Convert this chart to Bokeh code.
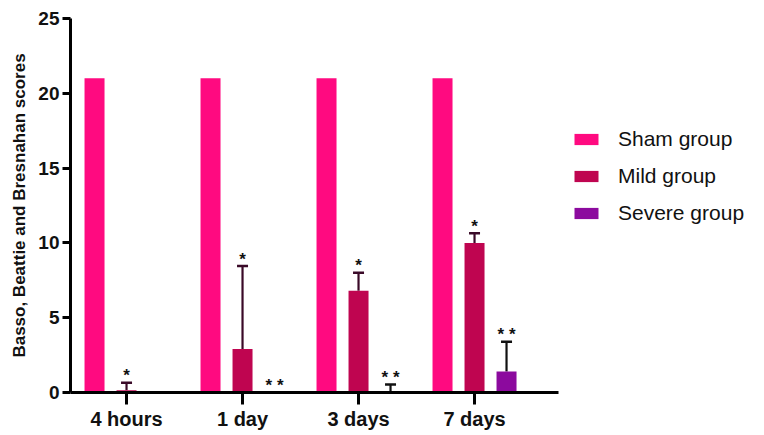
from bokeh.plotting import figure
from bokeh.models import Range1d, FixedTicker, ColumnDataSource, Whisker, TeeHead, Legend, LegendItem
from bokeh.core.properties import value
from bokeh.embed import file_html
from bokeh.resources import INLINE

categories = ["4 hours", "1 day", "3 days", "7 days"]
groups = ["Sham group", "Mild group", "Severe group"]
sham_mean = [21, 21, 21, 21]
sham_err = [0, 0, 0, 0]
mild_mean = [0.15, 2.9, 6.8, 10.0]
mild_err = [0.5, 5.55, 1.2, 0.65]
severe_mean = [0.0, 0.0, 0.1, 1.4]
severe_err = [0.0, 0.0, 0.43, 2.0]
sham_sig = ["", "", "", ""]
mild_sig = ["*", "*", "*", "*"]
severe_sig = ["", "* *", "* *", "* *"]
y_ticks = [0, 5, 10, 15, 20, 25]

colors = ["#FF0A80", "#BF0550", "#8C0A9E"]
err_colors = ["#222222", "#3A0A28", "#111111"]
FONT = "Liberation Sans"

px_per_unit = 116.0
left = -0.483
frame_w = 686
p = figure(frame_width=frame_w, frame_height=374,
           x_range=Range1d(left, left + frame_w / px_per_unit),
           y_range=Range1d(0, 25),
           output_backend="svg", toolbar_location=None,
           min_border_left=70, min_border_top=18, min_border_bottom=35, min_border_right=0)
p.outline_line_color = None
p.grid.grid_line_color = None

offset = 32 / px_per_unit
bar_w = 20 / px_per_unit
series = [(sham_mean, sham_err, sham_sig), (mild_mean, mild_err, mild_sig), (severe_mean, severe_err, severe_sig)]
legend_items = []
for gi, (means, errs, sigs) in enumerate(series):
    xs = [i + (gi - 1) * offset for i in range(len(categories))]
    src = ColumnDataSource(dict(x=xs, top=means))
    r = p.vbar(x="x", top="top", width=bar_w, bottom=0, source=src,
               fill_color=colors[gi], line_color=None)
    legend_items.append(LegendItem(label=groups[gi], renderers=[r]))
    ex = [x for x, e in zip(xs, errs) if e > 0]
    el = [m for m, e in zip(means, errs) if e > 0]
    eu = [m + e for m, e in zip(means, errs) if e > 0]
    if ex:
        esrc = ColumnDataSource(dict(x=ex, lower=el, upper=eu))
        w = Whisker(base="x", lower="lower", upper="upper", source=esrc, dimension="height",
                    line_color=err_colors[gi], line_width=2.2, lower_head=None,
                    upper_head=TeeHead(size=11, line_color=err_colors[gi], line_width=2.5))
        p.add_layout(w)
    sx = [x for x, s in zip(xs, sigs) if s]
    sy = [m + e for m, e, s in zip(means, errs, sigs) if s]
    st = [s for s in sigs if s]
    if sx:
        ssrc = ColumnDataSource(dict(x=sx, y=sy, t=st))
        p.text(x="x", y="y", text="t", source=ssrc, text_align="center", text_baseline="middle",
               y_offset=-7, text_font=value(FONT), text_font_size="17px", text_font_style="bold",
               text_color="#111111")

legend = Legend(items=legend_items, location=(501, 167), padding=0, margin=0,
                glyph_width=30, glyph_height=14, label_standoff=17, spacing=13,
                label_text_font=FONT, label_text_font_size="21px", label_text_color="#111111",
                border_line_color=None, background_fill_alpha=0)
p.add_layout(legend)

xa = p.xaxis[0]
xa.ticker = FixedTicker(ticks=list(range(len(categories))))
xa.major_label_overrides = {i: c for i, c in enumerate(categories)}
xa.bounds = (left, 3 + 84 / px_per_unit)
xa.axis_line_width = 3
xa.major_tick_line_width = 3
xa.major_tick_out = 12
xa.major_tick_in = 0
xa.minor_tick_line_color = None
xa.major_label_text_font = FONT
xa.major_label_text_font_size = "20px"
xa.major_label_text_font_style = "bold"
xa.major_label_text_color = "#111111"
xa.major_label_standoff = 3

ya = p.yaxis[0]
ya.ticker = FixedTicker(ticks=y_ticks)
ya.axis_line_width = 3
ya.major_tick_line_width = 3
ya.major_tick_out = 8
ya.major_tick_in = 0
ya.minor_tick_line_color = None
ya.major_label_text_font = FONT
ya.major_label_text_font_size = "19px"
ya.major_label_text_font_style = "bold"
ya.major_label_text_color = "#111111"
ya.major_label_standoff = 3
ya.axis_label = "Basso, Beattie and Bresnahan scores"
ya.axis_label_text_font = FONT
ya.axis_label_text_font_size = "17px"
ya.axis_label_text_font_style = "bold"
ya.axis_label_text_color = "#111111"
ya.axis_label_standoff = 6

open("out.html", "w").write(file_html(p, INLINE))
